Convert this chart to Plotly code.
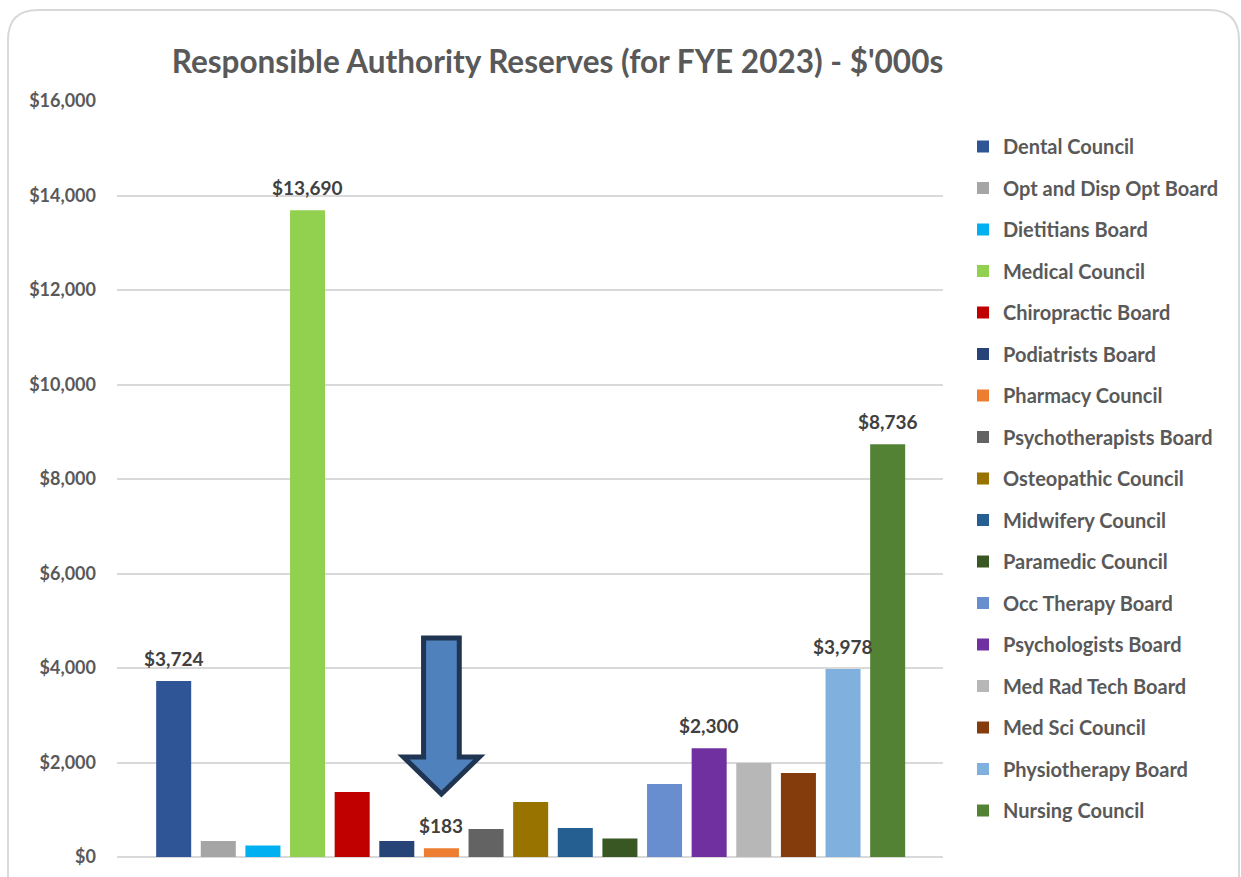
import plotly.graph_objects as go

categories = ["Dental Council", "Opt and Disp Opt Board", "Dietitians Board", "Medical Council",
              "Chiropractic Board", "Podiatrists Board", "Pharmacy Council", "Psychotherapists Board",
              "Osteopathic Council", "Midwifery Council", "Paramedic Council", "Occ Therapy Board",
              "Psychologists Board", "Med Rad Tech Board", "Med Sci Council", "Physiotherapy Board",
              "Nursing Council"]
values = [3724, 339, 243, 13690, 1376, 339, 183, 593, 1164, 614, 392, 1545, 2300, 1989, 1778, 3978, 8736]
colors = ["#2F5597", "#A5A5A5", "#00B0F0", "#92D050", "#C00000", "#264478", "#ED7D31", "#636363",
          "#997300", "#255E91", "#385723", "#698ED0", "#7030A0", "#B7B7B7", "#843C0C", "#7FB0DE", "#548235"]
labelled = ["Dental Council", "Medical Council", "Pharmacy Council", "Psychologists Board",
            "Physiotherapy Board", "Nursing Council"]
y_ticks = [0, 2000, 4000, 6000, 8000, 10000, 12000, 14000, 16000]
y_ticktext = ["$0", "$2,000", "$4,000", "$6,000", "$8,000", "$10,000", "$12,000", "$14,000", "$16,000"]

W, H = 1241, 877
L, R, T, B = 117, 943, 101, 857
FONT = "Lato"

fig = go.Figure()
for i, (c, v, col) in enumerate(zip(categories, values, colors)):
    fig.add_trace(go.Bar(x=[c], y=[v], name=c, marker=dict(color=col, line=dict(width=0)),
                         width=0.785, legendgroup=c, hoverinfo="x+y"))

for c, v in zip(categories, values):
    if c in labelled:
        fig.add_annotation(x=c, y=v, text=f"${v:,}", showarrow=False, yanchor="middle", yshift=23,
                           font=dict(family=FONT, size=19, color="#404040", weight="bold"))

# block arrow pointing to the Pharmacy Council bar (data coords)
px_i = categories.index("Pharmacy Council")
sw, hw = 0.40, 0.85
y_top, y_neck, y_tip = 4635, 2116, 1333
path = (f"M {px_i - sw},{y_top} L {px_i + sw},{y_top} L {px_i + sw},{y_neck} L {px_i + hw},{y_neck} "
        f"L {px_i},{y_tip} L {px_i - hw},{y_neck} L {px_i - sw},{y_neck} Z")
fig.add_shape(type="path", path=path, xref="x", yref="y", fillcolor="#4F81BD",
              line=dict(color="#1F3552", width=5), layer="above")

# rounded frame around the chart
def px(x): return (x - L) / (R - L)
def py(y): return (B - y) / (B - T)
r = 30
x0, x1, y0, y1 = 8, 1239, 10, 900
frame = (f"M {px(x0)},{py(y1)} L {px(x0)},{py(y0 + r)} Q {px(x0)},{py(y0)} {px(x0 + r)},{py(y0)} "
         f"L {px(x1 - r)},{py(y0)} Q {px(x1)},{py(y0)} {px(x1)},{py(y0 + r)} L {px(x1)},{py(y1)}")
fig.add_shape(type="path", path=frame, xref="paper", yref="paper", line=dict(color="#D9D9D9", width=2),
              layer="below")

fig.update_layout(
    width=W, height=H,
    margin=dict(l=L, r=W - R, t=T, b=H - B, autoexpand=False),
    paper_bgcolor="white", plot_bgcolor="white",
    barmode="overlay",
    title=dict(text="Responsible Authority Reserves (for FYE 2023) - $'000s", x=(170 + 945) / 2 / W,
               xanchor="center", y=1 - 62 / H, yanchor="middle",
               font=dict(family=FONT, size=31.5, color="#595959", weight="bold")),
    xaxis=dict(type="category", categoryorder="array", categoryarray=categories,
               range=[-1.27, 17.24], showticklabels=False, showgrid=False, zeroline=False,
               showline=False, ticks=""),
    yaxis=dict(range=[0, 16000], tickvals=y_ticks, ticktext=y_ticktext, showgrid=True,
               gridcolor="#D9D9D9", gridwidth=1.5, zeroline=True, zerolinecolor="#D9D9D9",
               zerolinewidth=2, showline=False, ticks="", ticklabelstandoff=20,
               tickfont=dict(family=FONT, size=18, color="#595959", weight="bold")),
    legend=dict(x=px(963), xanchor="left", y=py(127), yanchor="top", tracegroupgap=12.5,
                maxheight=760,
                font=dict(family=FONT, size=20, color="#595959", weight="bold"),
                bgcolor="rgba(0,0,0,0)", itemclick=False),
    showlegend=True,
)

fig.write_html("out.html")
